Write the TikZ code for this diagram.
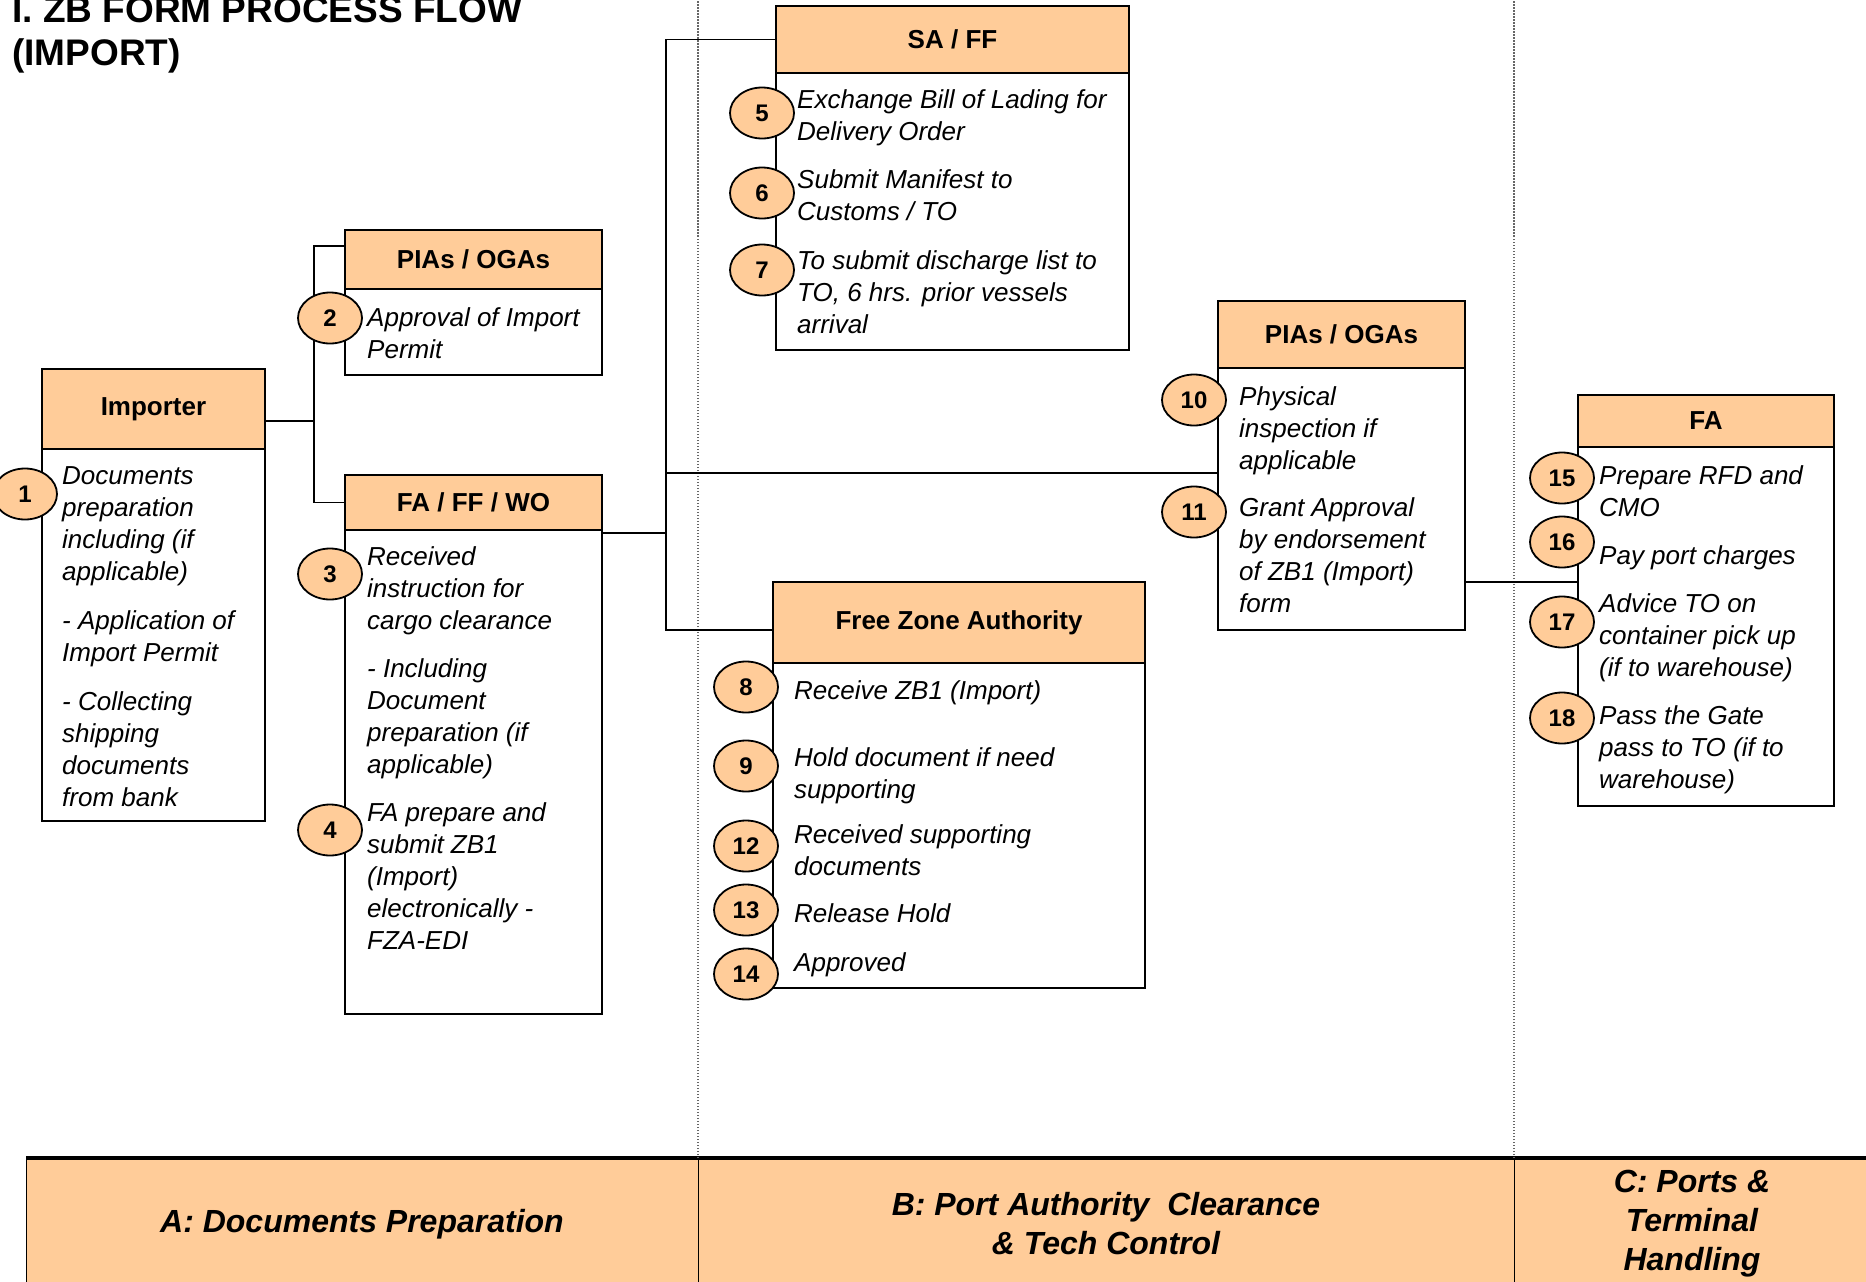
\documentclass[tikz,border=0pt]{standalone}
\usepackage{fontspec}
\setmainfont{Liberation Sans}
\usepackage{tikz}
\usetikzlibrary{positioning}
\usetikzlibrary{shapes.geometric}
\definecolor{peach}{RGB}{255,204,153}

\begin{document}
\begin{tikzpicture}[x=1pt,y=-1pt,
		hdr/.style={draw,fill=peach,line width=2.2pt,outer sep=0pt,inner sep=0pt,anchor=north west,font=\fontsize{26}{30}\selectfont\bfseries},
		bodybox/.style={draw,line width=2pt,outer sep=0pt,inner sep=0pt},
		item/.style={anchor=north west,inner sep=0pt,align=left,font=\fontsize{26}{32}\selectfont\itshape},
		num/.style={ellipse,draw,fill=peach,line width=1.8pt,minimum width=64pt,minimum height=51pt,inner sep=0pt,font=\fontsize{24}{28}\selectfont\bfseries},
		link/.style={line width=1.8pt},
		lane/.style={dash pattern=on 1.5pt off 1.5pt,black!60,line width=1.2pt},
		band/.style={draw,fill=peach,line width=1pt,outer sep=0pt,inner sep=0pt,align=center,minimum height=132pt,font=\fontsize{32}{39}\selectfont\bfseries\itshape}]
				\useasboundingbox (0,0) rectangle (1866,1282);
				\node[anchor=north west,inner sep=0pt,align=left,font=\fontsize{37}{43}\selectfont\bfseries](title) at (12,-8) {\strut I. ZB FORM PROCESS FLOW\\(IMPORT)};

				\node[band,anchor=north west,minimum width=672pt](banda) at (26,1158) {A: Documents Preparation};
				\node[band,right=0pt of banda,minimum width=816pt](bandb) {B: Port Authority~ Clearance\\\& Tech Control};
				\node[band,right=0pt of bandb,minimum width=356pt](bandc) {C: Ports \&\\Terminal\\Handling};
				\draw[line width=4pt] (banda.north west) -- (bandc.north east);
				\draw[lane] (bandb.north west) -- ++(0,-1160);
				\draw[lane] (bandc.north west) -- ++(0,-1160);

				\node[hdr,minimum width=223pt,minimum height=80pt](importer) at (42,369) {Importer};
				\node[bodybox,below=0pt of importer,minimum width=223pt,minimum height=372pt](impbody) {};
				\node[hdr,minimum width=257pt,minimum height=59pt](pias) at (345,230) {PIAs / OGAs};
				\node[bodybox,below=0pt of pias,minimum width=257pt,minimum height=86pt](piasbody) {};
				\node[hdr,minimum width=257pt,minimum height=55pt](fffwo) at (345,475) {FA / FF / WO};
				\node[bodybox,below=0pt of fffwo,minimum width=257pt,minimum height=484pt](fffwobody) {};
				\node[hdr,minimum width=353pt,minimum height=67pt](saff) at (776,6) {SA / FF};
				\node[bodybox,below=0pt of saff,minimum width=353pt,minimum height=277pt](saffbody) {};
				\node[hdr,minimum width=372pt,minimum height=81pt](fza) at (773,582) {Free Zone Authority};
				\node[bodybox,below=0pt of fza,minimum width=372pt,minimum height=325pt](fzabody) {};
				\node[hdr,minimum width=247pt,minimum height=67pt](piasb) at (1218,301) {PIAs / OGAs};
				\node[bodybox,below=0pt of piasb,minimum width=247pt,minimum height=262pt](piasbbody) {};
				\node[hdr,minimum width=256pt,minimum height=52pt](fa) at (1578,395) {FA};
				\node[bodybox,below=0pt of fa,minimum width=256pt,minimum height=359pt](fabody) {};

				\coordinate (a1) at (314,421);
				\coordinate (a2) at (314,246);
				\coordinate (a3) at (666,533);
				\coordinate (a4) at (666,473);
				\coordinate (a5) at (666,630);
				\coordinate (a6) at (1520,582);
				\draw[link] (importer.east |- a1) -- (a1);
				\draw[link] (pias.west |- a2) -- (a2) -- (a1) |- (fffwo.west);
				\draw[link] (fffwo.east |- a3) -- (a3);
				\draw[link] (saff.west) -| (a5) -- (fza.west |- a5);
				\draw[link] (a4) -- (piasb.west |- a4);
				\draw[link] (piasb.east |- a6) -- (fa.west |- a6);

				\node[item](t1) at (62,462) {\strut Documents\\preparation\\including (if\\applicable)\\[17pt]- Application of\\Import Permit\\[17pt]- Collecting\\shipping\\documents\\from bank};
				\node[item](t2) at (367,304) {\strut Approval of Import\\Permit};
				\node[item](t3) at (367,543) {\strut Received\\instruction for\\cargo clearance\\[16pt]- Including\\Document\\preparation (if\\applicable)};
				\node[item](t4) at (367,799) {\strut FA prepare and\\submit ZB1\\(Import)\\electronically -\\FZA-EDI};
				\node[item](t5) at (797,86) {\strut Exchange Bill of Lading for\\Delivery Order};
				\node[item](t6) at (797,166) {\strut Submit Manifest to\\Customs / TO};
				\node[item](t7) at (797,247) {\strut To submit discharge list to\\TO, 6 hrs. prior vessels\\arrival};
				\node[item](t8) at (794,677) {\strut Receive ZB1 (Import)};
				\node[item](t9) at (794,744) {\strut Hold document if need\\supporting};
				\node[item](t12) at (794,821) {\strut Received supporting\\documents};
				\node[item](t13) at (794,900) {\strut Release Hold};
				\node[item](t14) at (794,949) {\strut Approved};
				\node[item](t10) at (1239,383) {\strut Physical\\inspection if\\applicable};
				\node[item](t11) at (1239,494) {\strut Grant Approval\\by endorsement\\of ZB1 (Import)\\form};
				\node[item](t15) at (1599,462) {\strut Prepare RFD and\\CMO};
				\node[item](t16) at (1599,542) {\strut Pay port charges};
				\node[item](t17) at (1599,590) {\strut Advice TO on\\container pick up\\(if to warehouse)};
				\node[item](t18) at (1599,702) {\strut Pass the Gate\\pass to TO (if to\\warehouse)};

				\node[num](n1) at (25,494) {1};
				\node[num](n2) at (330,318) {2};
				\node[num](n3) at (330,574) {3};
				\node[num](n4) at (330,830) {4};
				\node[num](n5) at (762,113) {5};
				\node[num](n6) at (762,193) {6};
				\node[num](n7) at (762,270) {7};
				\node[num](n8) at (746,687) {8};
				\node[num](n9) at (746,766) {9};
				\node[num](n12) at (746,846) {12};
				\node[num](n13) at (746,910) {13};
				\node[num](n14) at (746,974) {14};
				\node[num](n10) at (1194,400) {10};
				\node[num](n11) at (1194,512) {11};
				\node[num](n15) at (1562,478) {15};
				\node[num](n16) at (1562,542) {16};
				\node[num](n17) at (1562,622) {17};
				\node[num](n18) at (1562,718) {18};
			\end{tikzpicture}
\end{document}
